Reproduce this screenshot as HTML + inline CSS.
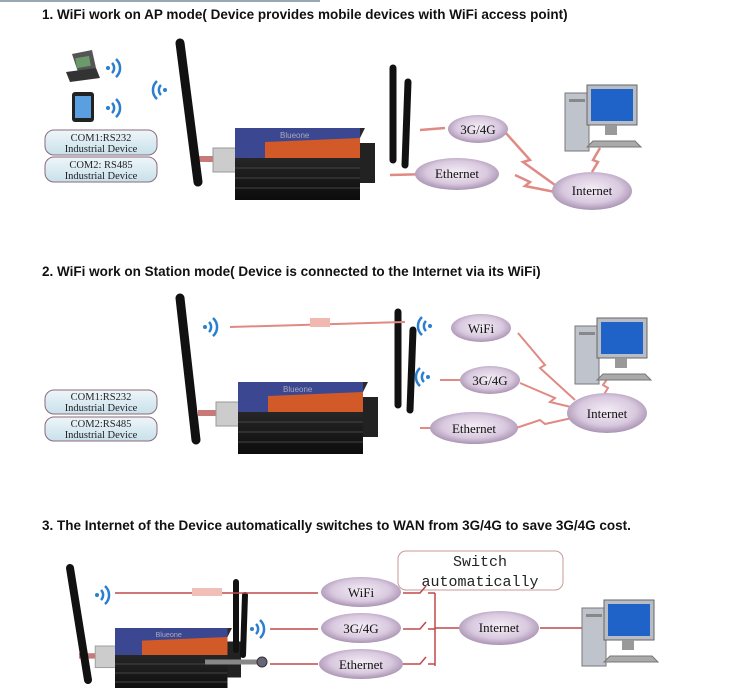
<!DOCTYPE html>
<html><head><meta charset="utf-8"><style>
body{margin:0;background:#fff;width:750px;height:688px;overflow:hidden}
svg{display:block}
.t{font-family:"Liberation Sans",Arial,sans-serif;font-weight:bold;font-size:13.5px;fill:#111}
.s{font-family:"Liberation Serif",serif;font-size:13px;fill:#111}
.c{font-family:"Liberation Serif",serif;font-size:10.5px;fill:#222}
</style></head><body>
<svg width="750" height="688" viewBox="0 0 750 688">
<defs>
<radialGradient id="cl" cx="50%" cy="45%" r="60%"><stop offset="0" stop-color="#f4eef6"/><stop offset="0.6" stop-color="#d9c9df"/><stop offset="1" stop-color="#9c84a6"/></radialGradient>
<linearGradient id="cb" x1="0" y1="0" x2="0" y2="1"><stop offset="0" stop-color="#eef6fa"/><stop offset="1" stop-color="#c8e0ea"/></linearGradient>
<linearGradient id="bd" x1="0" y1="0" x2="0" y2="1"><stop offset="0" stop-color="#333"/><stop offset="1" stop-color="#0c0c0c"/></linearGradient>
<g id="router">
 <rect x="-40" y="28" width="40" height="6" fill="#c87a7a"/>
 <rect x="-22" y="20" width="26" height="24" fill="#ccc" stroke="#999"/>
 <rect x="0" y="10" width="125" height="62" fill="url(#bd)"/>
 <polygon points="0,10 10,0 130,0 125,10" fill="#2a2a2a"/>
 <rect x="0" y="0" width="125" height="30" fill="#3b4790"/>
 <polygon points="30,14 125,10 125,30 30,30" fill="#d25a28"/>
 <text x="45" y="10" font-family="Liberation Sans" font-size="8" fill="#aab">Blueone</text>
 <line x1="0" y1="40" x2="125" y2="40" stroke="#444"/><line x1="0" y1="50" x2="125" y2="50" stroke="#444"/><line x1="0" y1="60" x2="125" y2="60" stroke="#444"/>
 <rect x="125" y="15" width="15" height="40" fill="#222"/>
</g>
<g id="pc">
 <rect x="0" y="8" width="24" height="58" fill="#bfc4cc" stroke="#777"/>
 <rect x="4" y="14" width="16" height="3" fill="#888"/>
 <rect x="22" y="0" width="50" height="40" fill="#b8bcc4" stroke="#666"/>
 <rect x="26" y="4" width="42" height="32" fill="#1f63c8"/>
 <rect x="40" y="40" width="12" height="10" fill="#999"/>
 <polygon points="28,56 70,56 76,62 22,62" fill="#aaa" stroke="#777"/>
</g>
<g id="wave" fill="none" stroke="#2a7fd0" stroke-width="2.5"><circle cx="0" cy="0" r="2" fill="#2a7fd0" stroke="none"/><path d="M4,-5 A7,7 0 0 1 4,5"/><path d="M8,-9 A12,12 0 0 1 8,9"/></g>
<g id="wavel" fill="none" stroke="#2a7fd0" stroke-width="2.5"><circle cx="0" cy="0" r="2" fill="#2a7fd0" stroke="none"/><path d="M-4,-5 A7,7 0 0 0 -4,5"/><path d="M-8,-9 A12,12 0 0 0 -8,9"/></g>
</defs>
<rect x="0" y="0" width="320" height="2" fill="#9aa8b4"/>
<text class="t" x="42" y="19">1. WiFi work on AP mode( Device provides mobile devices with WiFi access point)</text>
<!-- section1 -->
<polygon points="72,54 92,50 96,68 78,72" fill="#555"/><rect x="76" y="57" width="14" height="10" fill="#6a9a6a" transform="rotate(-10 83 62)"/><polygon points="66,72 96,68 100,78 70,82" fill="#333"/>
<rect x="72" y="92" width="22" height="30" rx="3" fill="#222"/><rect x="75" y="96" width="16" height="22" fill="#5aa0e0"/>
<use href="#wave" x="108" y="68"/><use href="#wave" x="108" y="108"/><use href="#wavel" x="165" y="90"/>
<use href="#router" x="235" y="128"/>
<line x1="180" y1="43" x2="198" y2="182" stroke="#111" stroke-width="9" stroke-linecap="round"/>
<line x1="393" y1="68" x2="393" y2="160" stroke="#111" stroke-width="7" stroke-linecap="round"/>
<line x1="408" y1="82" x2="405" y2="165" stroke="#111" stroke-width="7" stroke-linecap="round"/>
<rect x="45" y="130" width="112" height="25" rx="9" fill="url(#cb)" stroke="#8a6a7a"/><text class="c" x="101" y="141" text-anchor="middle">COM1:RS232</text><text class="c" x="101" y="152" text-anchor="middle">Industrial Device</text>
<rect x="45" y="157" width="112" height="25" rx="9" fill="url(#cb)" stroke="#8a6a7a"/><text class="c" x="101" y="168" text-anchor="middle">COM2: RS485</text><text class="c" x="101" y="179" text-anchor="middle">Industrial Device</text>
<g stroke="#e08a84" stroke-width="2.5" fill="none"><path d="M420,130 L445,128"/><path d="M390,175 L430,174"/><path d="M505,132 L530,160 L523,162 L555,185"/><path d="M515,175 L530,182 L525,186 L555,192"/><path d="M600,148 L593,160 L598,162 L592,172"/></g>
<ellipse cx="478" cy="129" rx="30" ry="14" fill="url(#cl)"/><text class="s" x="478" y="134" text-anchor="middle">3G/4G</text>
<ellipse cx="457" cy="174" rx="42" ry="16" fill="url(#cl)"/><text class="s" x="457" y="178" text-anchor="middle">Ethernet</text>
<ellipse cx="592" cy="191" rx="40" ry="19" fill="url(#cl)"/><text class="s" x="592" y="195" text-anchor="middle">Internet</text>
<use href="#pc" x="565" y="85"/>
<!-- section2 -->
<text class="t" x="42" y="276">2. WiFi work on Station mode( Device is connected to the Internet via its WiFi)</text>
<use href="#router" x="238" y="382"/>
<line x1="180" y1="298" x2="196" y2="440" stroke="#111" stroke-width="9" stroke-linecap="round"/>
<line x1="398" y1="312" x2="398" y2="405" stroke="#111" stroke-width="7" stroke-linecap="round"/>
<line x1="413" y1="330" x2="410" y2="410" stroke="#111" stroke-width="7" stroke-linecap="round"/>
<rect x="45" y="390" width="112" height="24" rx="9" fill="url(#cb)" stroke="#8a6a7a"/><text class="c" x="101" y="400" text-anchor="middle">COM1:RS232</text><text class="c" x="101" y="411" text-anchor="middle">Industrial Device</text>
<rect x="45" y="417" width="112" height="24" rx="9" fill="url(#cb)" stroke="#8a6a7a"/><text class="c" x="101" y="427" text-anchor="middle">COM2:RS485</text><text class="c" x="101" y="438" text-anchor="middle">Industrial Device</text>
<use href="#wave" x="205" y="327"/><use href="#wavel" x="430" y="326"/><use href="#wavel" x="428" y="377"/>
<g stroke="#e08a84" stroke-width="2" fill="none"><path d="M230,327 L405,322"/><path d="M440,380 L460,380"/><path d="M420,428 L435,428"/><path d="M518,333 L545,365 L540,368 L575,400"/><path d="M520,383 L555,398 L550,402 L575,408"/><path d="M510,430 L540,420 L545,424 L572,418"/><path d="M610,375 L603,385 L608,388 L603,396"/></g>
<rect x="310" y="318" width="20" height="9" fill="#f0b8b0"/>
<ellipse cx="481" cy="328" rx="30" ry="14" fill="url(#cl)"/><text class="s" x="481" y="333" text-anchor="middle">WiFi</text>
<ellipse cx="490" cy="380" rx="30" ry="14" fill="url(#cl)"/><text class="s" x="490" y="385" text-anchor="middle">3G/4G</text>
<ellipse cx="474" cy="428" rx="44" ry="16" fill="url(#cl)"/><text class="s" x="474" y="433" text-anchor="middle">Ethernet</text>
<ellipse cx="607" cy="413" rx="40" ry="20" fill="url(#cl)"/><text class="s" x="607" y="418" text-anchor="middle">Internet</text>
<use href="#pc" x="575" y="318"/>
<!-- section3 -->
<text class="t" x="42" y="530">3. The Internet of the Device automatically switches to WAN from 3G/4G to save 3G/4G cost.</text>
<rect x="398" y="551" width="165" height="39" rx="8" fill="#fff" stroke="#c89898"/>
<text x="480" y="566" text-anchor="middle" font-family="Liberation Mono,monospace" font-size="15" fill="#222">Switch</text>
<text x="480" y="586" text-anchor="middle" font-family="Liberation Mono,monospace" font-size="15" fill="#222">automatically</text>
<g transform="translate(115,628) scale(0.9)"><use href="#router"/></g>
<line x1="70" y1="568" x2="88" y2="680" stroke="#111" stroke-width="8" stroke-linecap="round"/>
<line x1="236" y1="582" x2="236" y2="650" stroke="#111" stroke-width="6" stroke-linecap="round"/>
<line x1="245" y1="595" x2="243" y2="655" stroke="#111" stroke-width="6" stroke-linecap="round"/>
<line x1="205" y1="662" x2="262" y2="662" stroke="#888" stroke-width="5"/><circle cx="262" cy="662" r="5" fill="#667" stroke="#333"/>
<use href="#wave" x="97" y="595"/><use href="#wave" x="252" y="629"/>
<g stroke="#c04848" stroke-width="1.5" fill="none"><path d="M115,593 L318,593"/><path d="M270,629 L318,629"/><path d="M270,664 L318,664"/>
<path d="M403,593 L420,593 L426,586 M428,593 L435,593"/><path d="M403,629 L420,629 L426,622 M428,629 L435,629"/><path d="M403,664 L420,664 L426,657 M428,664 L435,664"/>
<path d="M435,593 L435,666"/><path d="M435,628 L460,628"/><path d="M540,628 L588,628"/></g>
<rect x="192" y="588" width="30" height="8" fill="#f0c0b8"/>
<ellipse cx="361" cy="592" rx="40" ry="15" fill="url(#cl)"/><text class="s" x="361" y="597" text-anchor="middle">WiFi</text>
<ellipse cx="361" cy="628" rx="40" ry="15" fill="url(#cl)"/><text class="s" x="361" y="633" text-anchor="middle">3G/4G</text>
<ellipse cx="361" cy="664" rx="42" ry="15" fill="url(#cl)"/><text class="s" x="361" y="669" text-anchor="middle">Ethernet</text>
<ellipse cx="499" cy="628" rx="40" ry="17" fill="url(#cl)"/><text class="s" x="499" y="632" text-anchor="middle">Internet</text>
<use href="#pc" x="582" y="600"/>
</svg>
</body></html>
